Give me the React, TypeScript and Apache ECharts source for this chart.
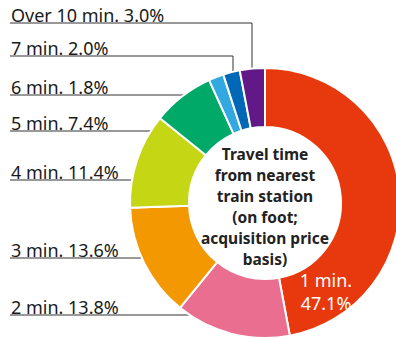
import React, { useEffect, useRef } from "react";
import * as echarts from "echarts";

const categories = ["1 min.", "2 min.", "3 min.", "4 min.", "5 min.", "6 min.", "7 min.", "Over 10 min."];
const shares = [47.1, 13.8, 13.6, 11.4, 7.4, 1.8, 2.0, 3.0];
const colors = ["#E8380D", "#EA6E8F", "#F39800", "#C5D714", "#00A968", "#31A8E0", "#0068B7", "#601986"];
const centerTitle = "Travel time\nfrom nearest\ntrain station\n(on foot;\nacquisition price\nbasis)";

// label layout (pixel positions of text underlines and leader anchors)
const labelLineY = [0, 315, 258, 180, 131, 95, 56, 23];
const anchors: [number, number][] = [
  [0, 0],
  [211, 315],
  [156, 258],
  [150, 180],
  [199, 131],
  [223, 95],
  [233, 76],
  [252, 71],
];
const LEFT_X = 10;

export default function App() {
  const ref = useRef<HTMLDivElement>(null);
  useEffect(() => {
    if (!ref.current) return;
    const chart = echarts.init(ref.current, undefined, { renderer: "svg" });
    chart.setOption({
      animation: false,
      graphic: [
        {
          type: "text",
          x: 265,
          y: 206,
          style: {
            text: centerTitle,
            align: "center",
            verticalAlign: "middle",
            textAlign: "center",
            textVerticalAlign: "middle",
            fill: "#222",
            font: "bold 15.5px 'Noto Sans'",
            lineHeight: 21,
          },
          z: 10,
        },
      ],
      series: [
        {
          type: "pie",
          center: [265, 203],
          radius: [76, 135],
          startAngle: 90,
          clockwise: true,
          avoidLabelOverlap: false,
          itemStyle: { borderColor: "#fff", borderWidth: 2 },
          label: {
            show: true,
            position: "outside",
            color: "#1a1a1a",
            fontFamily: "Noto Sans",
            fontSize: 18,
            formatter: (p: any) =>
              p.dataIndex === 0
                ? `${p.name}\n${p.value.toFixed(1)}%`
                : `${p.name} ${p.value.toFixed(1)}%`,
          },
          labelLine: { show: true, lineStyle: { color: "#333", width: 1 } },
          labelLayout: (p: any) => {
            const i = p.dataIndex;
            if (i === 0) {
              return { x: 326, y: 291, align: "center", verticalAlign: "middle" };
            }
            const ly = labelLineY[i];
            const a = anchors[i];
            return {
              x: LEFT_X + 1,
              y: ly + 1,
              align: "left",
              verticalAlign: "bottom",
              labelLinePoints: [a, [a[0], ly], [LEFT_X, ly]],
            };
          },
          data: categories.map((c, i) => ({
            name: c,
            value: shares[i],
            itemStyle: { color: colors[i] },
            ...(i === 0
              ? { label: { color: "#fff", fontSize: 18, lineHeight: 23 }, labelLine: { show: false } }
              : {}),
          })),
        },
      ],
    });
    return () => chart.dispose();
  }, []);
  return (
    <div
      ref={ref}
      style={{ position: "fixed", left: 0, top: 0, width: 396, height: 338, background: "#fff" }}
    />
  );
}
